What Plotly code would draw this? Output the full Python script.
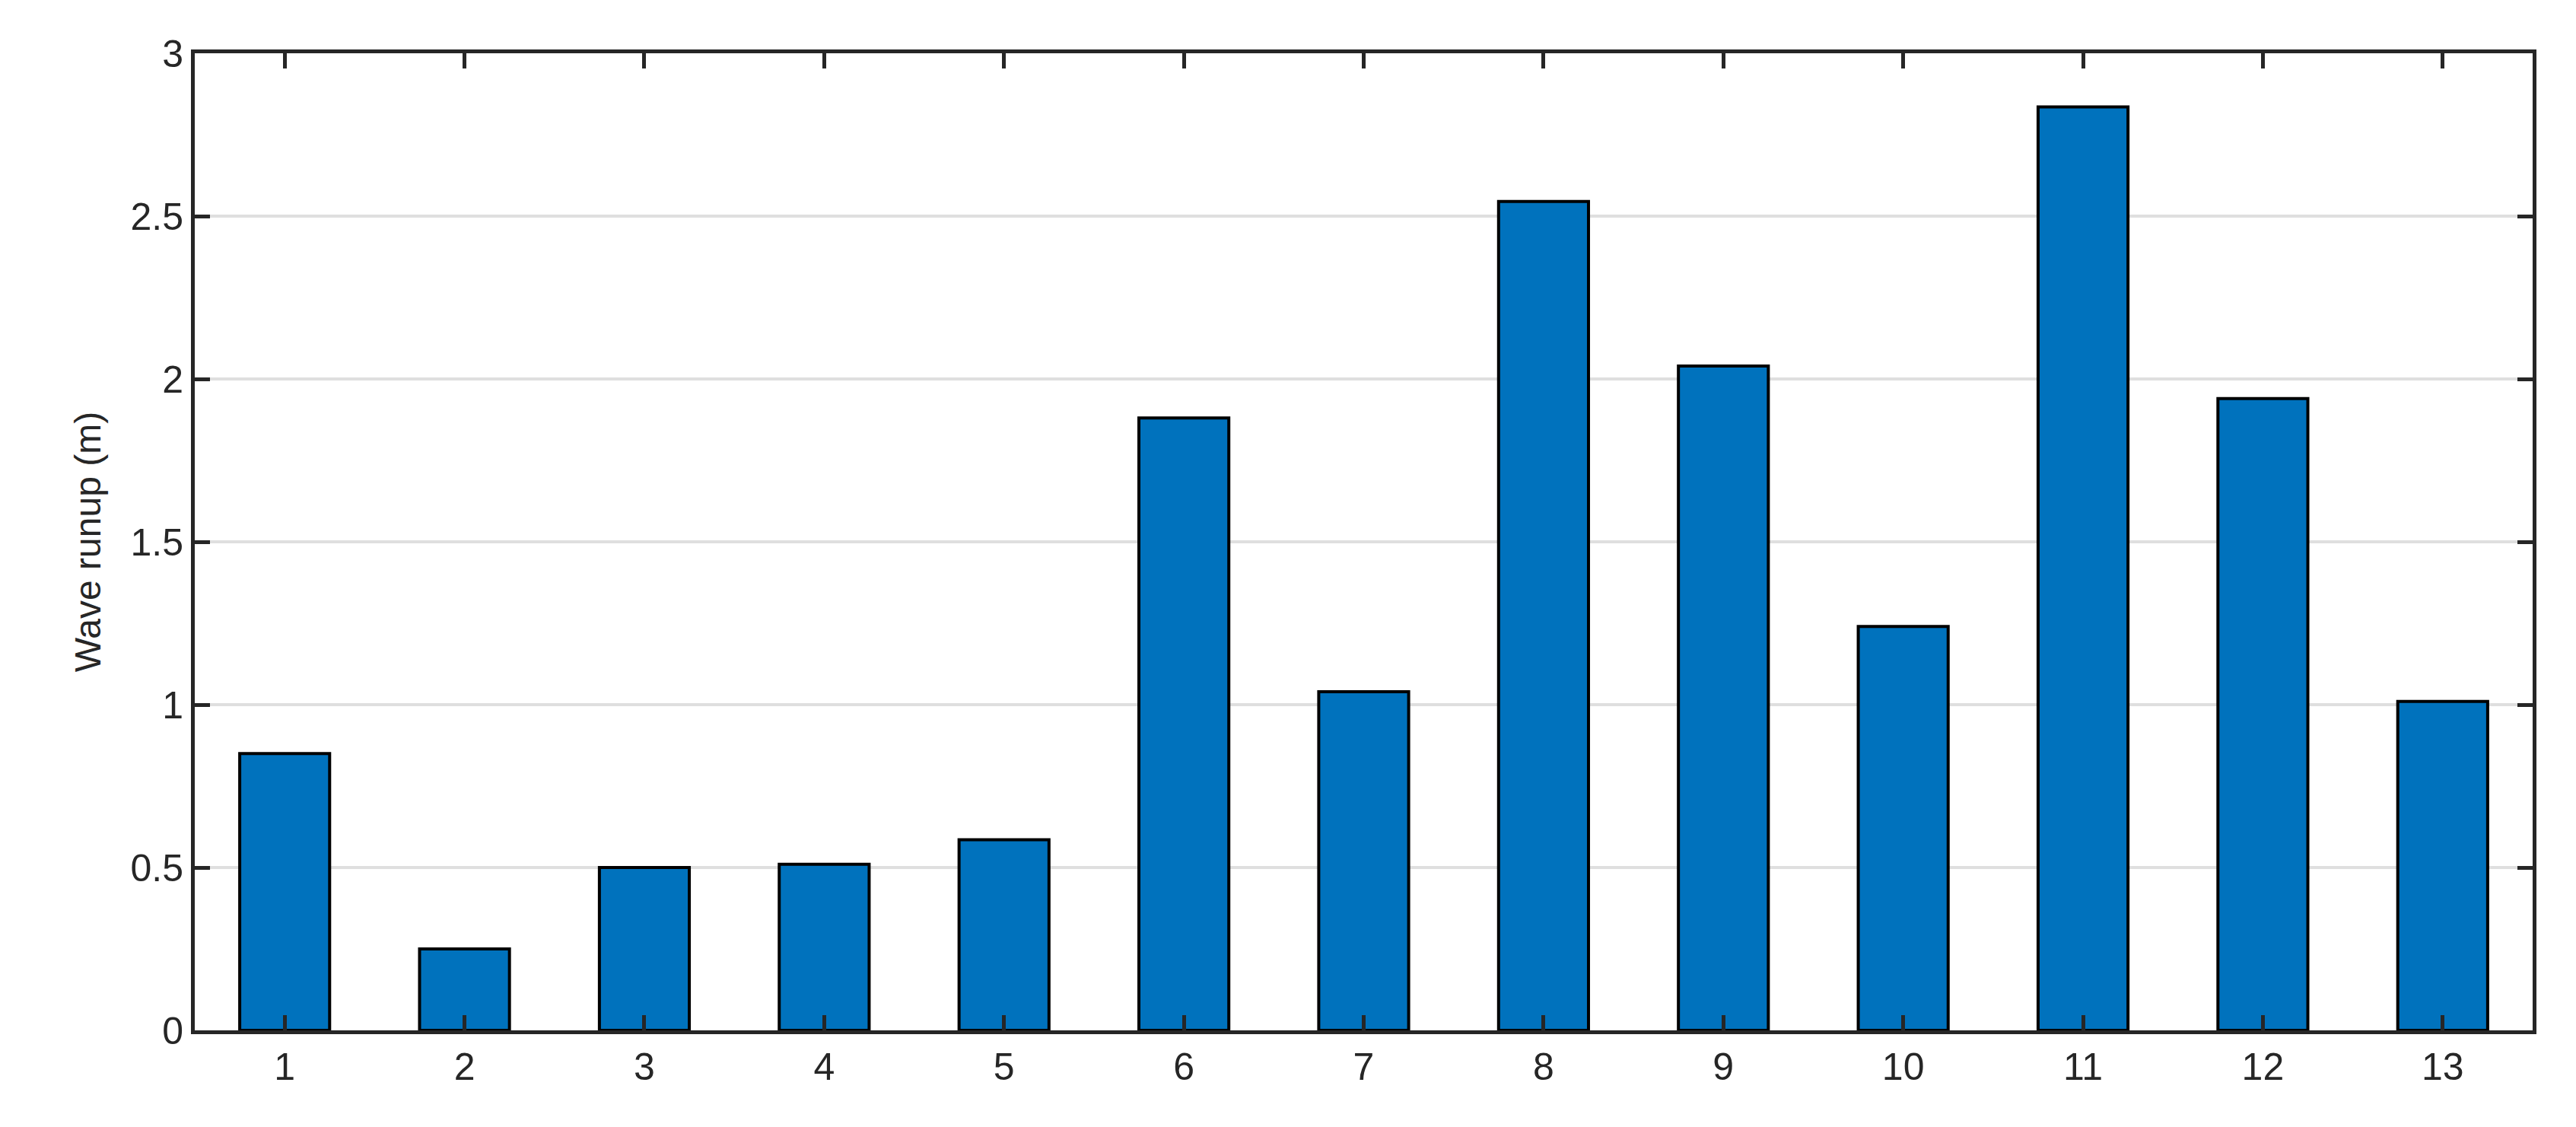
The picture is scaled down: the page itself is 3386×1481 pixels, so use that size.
import plotly.graph_objects as go

categories = [str(i) for i in range(1, 14)]
runup = [0.85, 0.25, 0.50, 0.51, 0.585, 1.88, 1.04, 2.545, 2.04, 1.24, 2.835, 1.94, 1.01]

fig = go.Figure(go.Bar(
    x=categories, y=runup, width=0.5,
    marker=dict(color="#0072BD", line=dict(color="#000000", width=4)),
))

axis_common = dict(
    showline=True, linecolor="#262626", linewidth=5, mirror="allticks",
    ticks="inside", ticklen=20, tickwidth=5, tickcolor="#262626",
    tickfont=dict(family="Liberation Sans, Arial", size=50, color="#262626"),
    zeroline=False,
)

fig.update_xaxes(**axis_common, showgrid=False, range=[-0.5, 12.5])
fig.update_yaxes(**axis_common, range=[0, 3], dtick=0.5, showgrid=True,
                 gridcolor="#DFDFDF", gridwidth=4,
                 title=dict(text="Wave runup (m)", standoff=25,
                            font=dict(family="Liberation Sans, Arial", size=48, color="#262626")))

fig.update_layout(
    width=3386, height=1481, plot_bgcolor="white", paper_bgcolor="white",
    margin=dict(l=248, r=65, t=62, b=135), showlegend=False,
)

fig.write_html("out.html")
